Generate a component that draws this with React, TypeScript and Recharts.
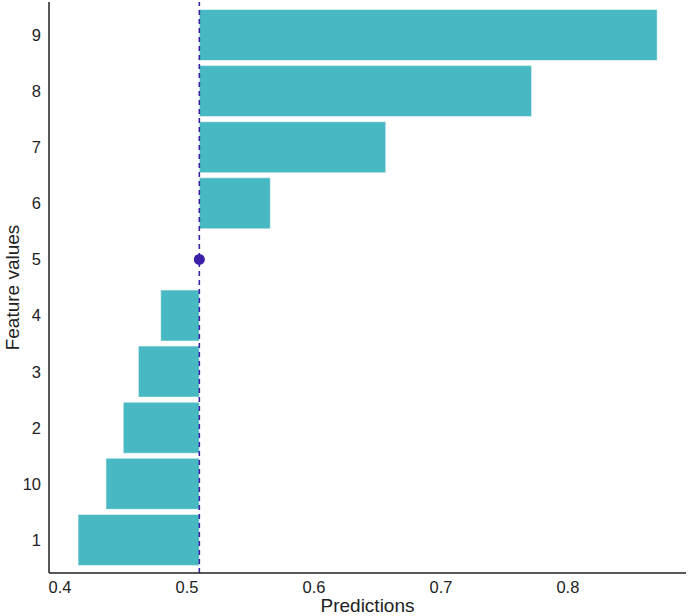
import {
  ComposedChart,
  Bar,
  XAxis,
  YAxis,
  ReferenceLine,
  ReferenceDot,
} from "recharts";

// feature values, top to bottom
const features = ["9", "8", "7", "6", "5", "4", "3", "2", "10", "1"];
const predictions = [0.8703, 0.7714, 0.6565, 0.5656, 0.5097, 0.4793, 0.4617, 0.4498, 0.4362, 0.4142];
const baseline = 0.5097;
const xTicks = [0.4, 0.5, 0.6, 0.7, 0.8];

const data = features.map((f, i) => ({
  feature: f,
  range: [Math.min(baseline, predictions[i]), Math.max(baseline, predictions[i])],
}));

const TEXT = "#222";
const FONT = "'Liberation Sans', Arial, sans-serif";

export default function App() {
  return (
    <div style={{ position: "absolute", left: 0, top: 0, fontFamily: FONT }}>
      <ComposedChart
        width={689}
        height={616}
        data={data}
        layout="vertical"
        margin={{ top: 2, right: 3, left: 0, bottom: 0 }}
        barCategoryGap={2.5}
      >
        <XAxis
          type="number"
          domain={[0.3913, 0.893]}
          ticks={xTicks}
          allowDataOverflow
          height={43}
          tickLine={false}
          axisLine={{ stroke: "#222", strokeWidth: 1.5 }}
          tick={{ fill: TEXT, fontSize: 16.5, fontFamily: FONT }}
          tickFormatter={(v: number) => v.toFixed(1)}
          label={{
            value: "Predictions",
            position: "insideBottom",
            offset: 4,
            style: { fill: TEXT, fontSize: 19, fontFamily: FONT },
          }}
        />
        <YAxis
          type="category"
          dataKey="feature"
          width={49}
          padding={{ top: 5, bottom: 5 }}
          tickLine={false}
          axisLine={{ stroke: "#222", strokeWidth: 1.5 }}
          tick={{ fill: TEXT, fontSize: 16.5, fontFamily: FONT }}
          label={{
            value: "Feature values",
            angle: -90,
            position: "insideLeft",
            offset: 12,
            style: { fill: TEXT, fontSize: 19, fontFamily: FONT, textAnchor: "middle" },
          }}
        />
        <Bar
          dataKey="range"
          fill="#48b9c3"
          stroke="#ffffff"
          strokeOpacity={0.5}
          strokeWidth={1}
          isAnimationActive={false}
        />
        <ReferenceLine
          x={baseline}
          stroke="#3b22a5"
          strokeWidth={1.6}
          strokeDasharray="5 4"
        />
        <ReferenceDot x={baseline} y="5" r={5.5} fill="#3b1fa8" stroke="none" />
      </ComposedChart>
    </div>
  );
}
